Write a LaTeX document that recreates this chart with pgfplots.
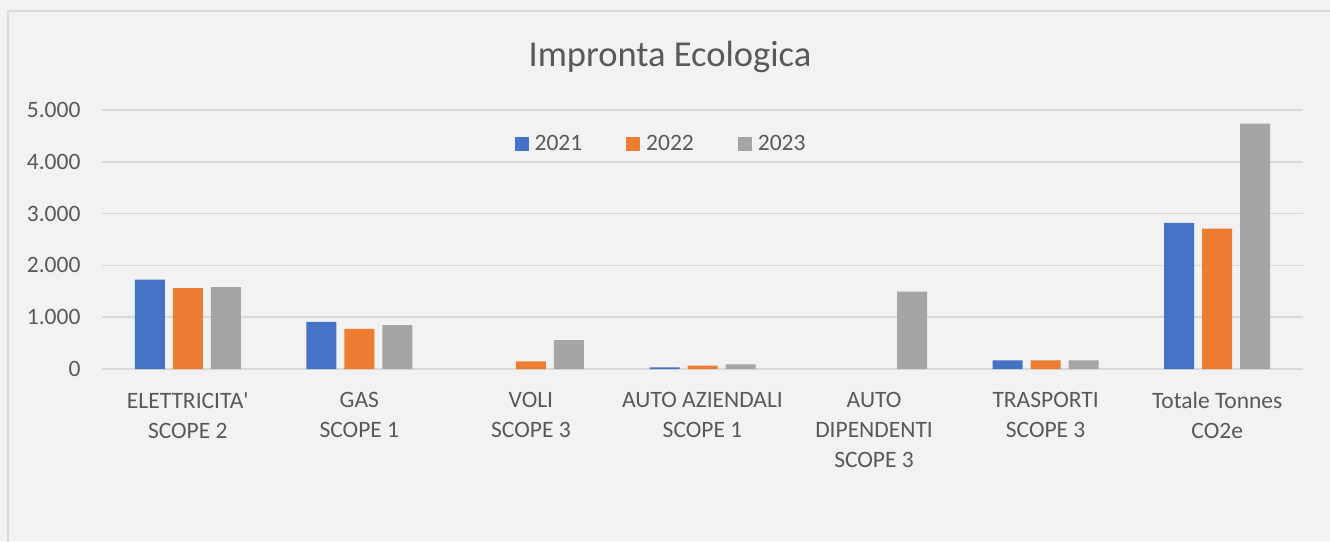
\documentclass[border=0pt]{standalone}
\usepackage{fontspec}
\setmainfont{Carlito}[Ligatures=TeXOff]
\usepackage{pgfplots}
\pgfplotsset{compat=1.18}

\definecolor{bg}{HTML}{F2F2F2}
\definecolor{gridgray}{HTML}{D9D9D9}
\definecolor{txt}{HTML}{595959}
\definecolor{c2021}{HTML}{4472C4}
\definecolor{c2022}{HTML}{ED7D31}
\definecolor{c2023}{HTML}{A5A5A5}

\begin{document}
\begin{tikzpicture}
  \useasboundingbox (0,0) rectangle (1330pt,541pt);
  \fill[bg] (0,0) rectangle (1330pt,541pt);
  \draw[gridgray, line width=1.5pt] (8pt,-5pt) -- (8pt,530pt) -- (1340pt,530pt);

  \node[anchor=base, text=txt, font=\fontsize{36.5}{44}\selectfont] at (670pt,474pt) {Impronta Ecologica};

  \begin{axis}[
      at={(102pt,172pt)}, anchor=south west,
      scale only axis,
      width=1201pt, height=259pt,
      xmin=-0.5, xmax=6.5,
      ymin=0, ymax=5000,
      ytick={0,1000,2000,3000,4000,5000},
      xtick={0,1,2,3,4,5,6},
      xticklabels={{ELETTRICITA'\\SCOPE 2},{GAS\\SCOPE 1},{VOLI\\SCOPE 3},
                   {AUTO AZIENDALI\\SCOPE 1},{AUTO\\DIPENDENTI\\SCOPE 3},
                   {TRASPORTI\\SCOPE 3},{Totale Tonnes\\CO2e}},
      xticklabel style={align=center, text=txt, font=\fontsize{23.5}{30}\selectfont, yshift=-20pt},
      yticklabel style={text=txt, font=\fontsize{23.5}{28}\selectfont, xshift=-18pt},
      /pgf/number format/.cd, 1000 sep={.}, assume math mode=true, /pgfplots/.cd,
      axis line style={draw=none},
      major tick length=0pt,
      ymajorgrids,
      grid style={gridgray, line width=1.5pt},
      ybar=8pt,
      bar width=30pt,
      legend columns=-1,
      legend style={at={(0.4655,0.869)}, anchor=center, draw=none, fill=none,
                    text=txt, font=\fontsize{23.5}{28}\selectfont,
                    /tikz/every odd column/.append style={column sep=4pt},
                    /tikz/every even column/.append style={column sep=42pt}},
      legend image code/.code={\fill[#1] (0pt,-7pt) rectangle (14pt,7pt);},
    ]
    % zero values (VOLI 2021, AUTO DIPENDENTI 2021/2022) are left out
    \addplot[fill=c2021, draw=none] coordinates {(0,1725) (1,910) (3,30) (5,165) (6,2821)};
    \addlegendentry{2021}
    \addplot[fill=c2022, draw=none] coordinates {(0,1563) (1,775) (2,148) (3,63) (5,165) (6,2712)};
    \addlegendentry{2022}
    \addplot[fill=c2023, draw=none] coordinates {(0,1583) (1,846) (2,558) (3,90) (4,1494) (5,165) (6,4737)};
    \addlegendentry{2023}
  \end{axis}
\end{tikzpicture}
\end{document}
